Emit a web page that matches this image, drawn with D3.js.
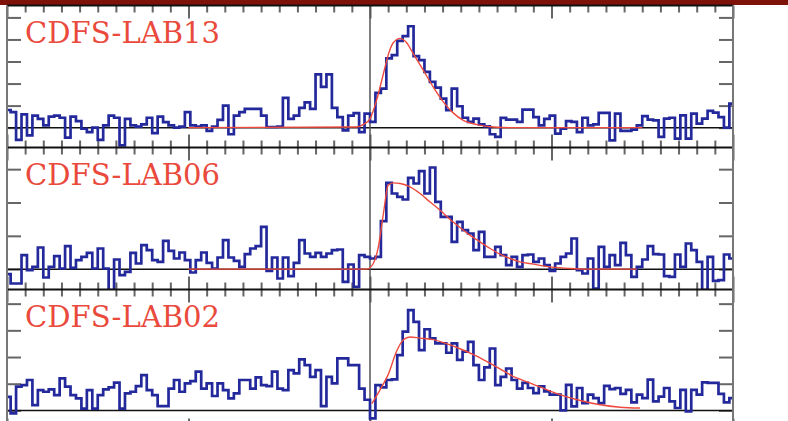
<!DOCTYPE html>
<html><head><meta charset="utf-8">
<script src="https://cdn.jsdelivr.net/npm/d3@7"></script>
<style>html,body{margin:0;padding:0;background:#fff;}svg{display:block;}</style>
</head><body>
<svg id="c" width="788" height="421"></svg>
<script>
// ---- data ----
const names = ["CDFS-LAB13", "CDFS-LAB06", "CDFS-LAB02"];
const binStart = -1005, binWidth = 15; // km/s
const lab13 = [0.8,0.7,-0.55,0.6,-0.35,0.55,0.4,0.1,0.5,0.55,
0.45,-0.45,0.5,0.3,-0.05,-0.2,0.0,-0.55,0.1,0.55,
0.45,-0.8,0.4,0.1,0.05,0.15,0.45,-0.25,0.5,0.25,
0.1,0.0,0.05,0.7,0.1,0.05,0.1,-0.15,0.05,0.35,
1.0,-0.3,0.55,0.7,0.85,0.85,0.85,
0.55,0.03,0.03,0.05,1.35,0.4,0.55,0.9,1.15,0.85,2.42,1.85,2.42,0.9,0.48,-0.12,0.55,0.66,-0.2,0.64,0.26,1.58,1.77,3.14,3.29,3.94,4.15,4.6,3.24,3.06,2.53,2.08,1.82,1.32,0.79,1.77,0.97,0.45,0.26,0.41,0.15,0.06,-0.3,-0.42,0.44,0.36,0.36,0.26,
0.82,0.82,0.48,0.1,0.4,0.55,-0.27,-0.05,0.3,0.26,-0.2,0.45,0.1,0.15,0.67,0.67,-0.58,0.64,-0.15,-0.15,-0.09,0.1,0.52,0.36,0.33,-0.42,0.41,0.45,-0.5,0.56,-0.5,0.64,0.18,0.41,0.76,0.68,0.48,0.0,1.09];
const lab06 = [-0.15,-0.43,-0.43,0.42,-0.03,0.07,0.65,-0.25,0.07,0.39,
0.02,0.69,0.04,0.27,0.37,0.49,0.02,0.62,0.02,-0.63,
0.29,-0.18,-0.08,0.49,0.17,0.72,0.57,0.27,0.22,0.85,
0.55,0.32,0.5,0.27,-0.1,0.27,0.5,0.19,0.02,0.35,
0.87,0.35,0.25,0.07,0.45,0.62,0.69,
1.27,-0.05,0.35,-0.28,0.35,-0.21,0.19,0.87,0.47,0.37,0.49,0.37,0.47,0.57,0.59,-0.38,0.14,-0.53,0.42,0.37,0.32,0.37,1.44,2.59,2.27,2.17,2.09,2.74,2.57,2.94,2.27,3.05,2.02,1.57,1.57,0.82,1.42,1.17,1.07,0.57,1.12,0.37,0.37,0.67,0.42,0.12,0.37,0.07,
0.42,0.44,0.22,0.32,0.12,-0.05,0.17,0.37,0.47,0.92,-0.03,-0.13,0.32,-0.58,0.67,0.07,0.42,0.12,0.79,0.42,-0.23,0.07,0.29,0.69,0.45,0.44,-0.21,-0.23,0.44,0.07,0.77,0.57,0.22,-0.63,0.37,-0.35,-0.33,0.44,0.32];
const lab02 = [0.51,-0.11,0.89,0.95,1.14,0.2,0.76,0.7,0.79,0.57,
1.2,0.89,0.57,0.45,0.07,0.76,0.07,0.57,0.79,0.86,
1.04,0.07,0.64,0.7,0.91,1.32,0.76,0.57,0.16,0.16,
0.82,1.14,0.7,1.01,1.1,1.45,0.82,1.01,0.54,1.01,
0.76,0.45,0.64,1.14,1.14,0.82,1.24,
0.95,0.91,1.45,0.82,0.76,1.51,1.39,1.91,1.7,1.26,1.51,0.16,1.26,1.01,1.95,1.95,1.7,1.7,0.82,0.4,-0.3,0.95,0.86,1.14,1.16,2.07,2.95,3.76,3.32,2.26,3.04,2.7,2.51,2.51,2.16,2.51,1.89,2.2,2.57,1.7,1.14,1.61,2.32,0.95,1.26,1.57,1.14,0.82,
1.03,0.84,0.65,0.9,0.71,0.59,0.59,0.0,0.96,0.15,0.84,0.27,0.59,0.46,0.27,0.92,0.8,0.84,0.62,0.77,0.3,0.59,0.46,1.15,0.34,0.52,0.84,0.34,0.09,0.77,-0.04,0.77,0.59,1.05,1.03,1.03,0.62,0.3,0.46];

const fit13V = [-500,-37,-18,0,18,37,50,64,83,101,119,147,174,202,229,257,294,340,400,750];
const fit13F = [0,0.03,0.15,0.4,1.24,2.45,3.29,3.85,4.05,3.85,3.36,2.6,1.85,1.17,0.67,0.33,0.14,0.03,0,0];
const fit06V = [-500,-9,9,23,37,50,64,83,110,138,165,193,220,248,275,303,331,358,386,413,450,496,551,597,735];
const fit06F = [0,0,0.17,0.67,1.67,2.52,2.59,2.57,2.47,2.27,2.02,1.77,1.5,1.25,1.02,0.82,0.62,0.45,0.32,0.22,0.15,0.07,0.02,0,0];
const fit02V = [5,28,50,73,92,110,138,174,211,248,285,321,358,395,413,468,523,579,634,689,744];
const fit02F = [0.25,0.78,1.34,2.21,2.65,2.75,2.71,2.65,2.5,2.31,2.09,1.84,1.56,1.27,1.17,0.88,0.59,0.37,0.21,0.12,0.09];

const xDomain = [-1000, 1000];
const xMinorStep = 50, xMajorStep = 500;
const yDomains = [[-0.9, 5.54], [-0.61, 3.65], [-0.79, 4.53]];
const yTickValues = [[0,1,2,3,4,5], [0,1,2,3], [0,1,2,3,4]];

// ---- layout ----
const W = 788, H = 421;
const left = 7, right = 733;
const tops = [5.5, 147.5, 289.5], bottoms = [147.5, 289.5, 431.5];
const blue = "#23299b", red = "#ee4b3e", tickCol = "#666";

const svg = d3.select("#c");
const x = d3.scaleLinear().domain(xDomain).range([left, right]);

const series = [lab13, lab06, lab02];
const fits = [[fit13V, fit13F], [fit06V, fit06F], [fit02V, fit02F]];

const minorTicks = d3.range(xDomain[0], xDomain[1] + 1, xMinorStep).filter(v => v % xMajorStep !== 0);
const majorTicks = d3.range(xDomain[0], xDomain[1] + 1, xMajorStep);

// top red bar
svg.append("rect").attr("x", 0).attr("y", 0).attr("width", W).attr("height", 5).attr("fill", "#7e1108");

series.forEach((vals, i) => {
  const y = d3.scaleLinear().domain(yDomains[i]).range([bottoms[i], tops[i]]);
  const g = svg.append("g");
  const cid = "clip" + i;
  svg.append("clipPath").attr("id", cid).append("rect")
    .attr("x", left).attr("y", tops[i]).attr("width", right - left).attr("height", bottoms[i] - tops[i]);

  const addX = (vals, len) => {
    const t = g.append("g").attr("transform", `translate(0,${tops[i]})`)
      .call(d3.axisTop(x).tickValues(vals).tickSize(-len).tickFormat(""));
    const b = g.append("g").attr("transform", `translate(0,${bottoms[i]})`)
      .call(d3.axisBottom(x).tickValues(vals).tickSize(-len).tickFormat(""));
    [t, b].forEach(a => { a.select(".domain").remove(); a.selectAll("line").attr("stroke", tickCol).attr("stroke-width", 2); });
  };
  addX(minorTicks, 7);
  addX(majorTicks, 13);

  const ly = g.append("g").attr("transform", `translate(${left},0)`)
    .call(d3.axisLeft(y).tickValues(yTickValues[i]).tickSize(-14).tickFormat(""));
  const ry = g.append("g").attr("transform", `translate(${right},0)`)
    .call(d3.axisRight(y).tickValues(yTickValues[i]).tickSize(-14).tickFormat(""));
  [ly, ry].forEach(a => { a.select(".domain").remove(); a.selectAll("line").attr("stroke", tickCol).attr("stroke-width", 2); });

  const inner = g.append("g").attr("clip-path", `url(#${cid})`);
  inner.append("line").attr("x1", left).attr("x2", right).attr("y1", y(0)).attr("y2", y(0))
    .attr("stroke", "#111").attr("stroke-width", 1.5);
  inner.append("line").attr("x1", x(0)).attr("x2", x(0)).attr("y1", tops[i]).attr("y2", bottoms[i])
    .attr("stroke", "#555").attr("stroke-width", 1.5);

  const pts = vals.map((v, k) => [binStart + k * binWidth, v]);
  pts.push([binStart + vals.length * binWidth, vals[vals.length - 1]]);
  inner.append("path").attr("d", d3.line().x(d => x(d[0])).y(d => y(d[1])).curve(d3.curveStepAfter)(pts))
    .attr("fill", "none").attr("stroke", blue).attr("stroke-width", 2.7).attr("stroke-linejoin", "miter");

  const [fv, ff] = fits[i];
  inner.append("path").attr("d", d3.line().x((d, k) => x(fv[k])).y(d => y(d)).curve(d3.curveMonotoneX)(ff))
    .attr("fill", "none").attr("stroke", red).attr("stroke-width", 1.4);

  g.append("text").attr("x", 25).attr("y", tops[i] + 37.5)
    .attr("font-family", "'DejaVu Serif', 'Liberation Serif', serif").attr("font-size", 29)
    .attr("textLength", 195).attr("lengthAdjust", "spacingAndGlyphs")
    .attr("fill", "#ea4a3c").text(names[i]);
});

[0, 1, 2].forEach(i => {
  svg.append("line").attr("x1", left).attr("x2", right).attr("y1", tops[i]).attr("y2", tops[i]).attr("stroke", "#111").attr("stroke-width", 2);
});
svg.append("line").attr("x1", left).attr("x2", left).attr("y1", tops[0]).attr("y2", H).attr("stroke", "#777").attr("stroke-width", 2);
svg.append("line").attr("x1", right).attr("x2", right).attr("y1", tops[0]).attr("y2", H).attr("stroke", "#777").attr("stroke-width", 2);
</script>
</body></html>
